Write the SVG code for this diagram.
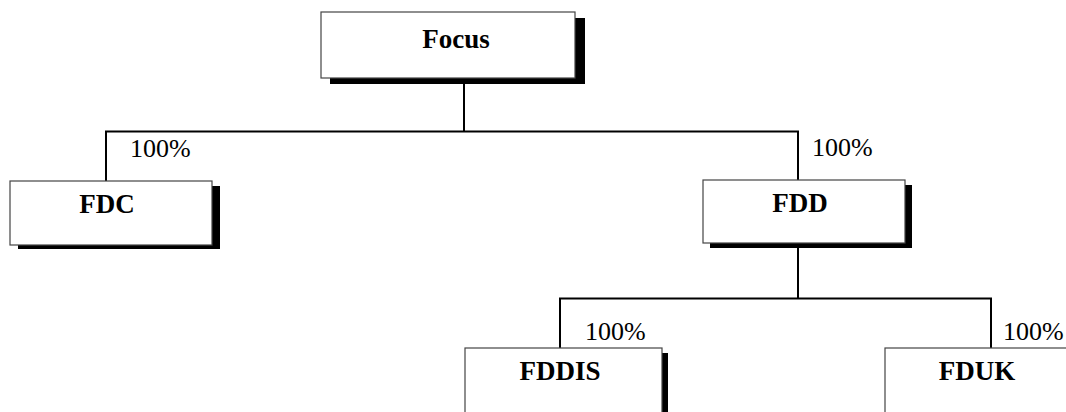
<svg xmlns="http://www.w3.org/2000/svg" width="1066" height="412" viewBox="0 0 1066 412">
<style>
.box{fill:#fff;stroke:#444;stroke-width:1.2}
.shadow{fill:#000}
.name{font-family:"Liberation Serif",serif;font-weight:bold;font-size:27px;text-anchor:middle;fill:#000}
.pct{font-family:"Liberation Serif",serif;font-size:26px;fill:#000}
.conn{fill:none;stroke:#000;stroke-width:2}
</style>
<rect width="1066" height="412" fill="#fff"/>
<g id="connectors">
<path class="conn" d="M464 84 V131.5"/>
<path class="conn" d="M106 181 V131.5 H798 V180"/>
<path class="conn" d="M798 248 V298.5"/>
<path class="conn" d="M560 348 V298.5 H991 V348"/>
<text class="pct" x="130" y="157">100%</text>
<text class="pct" x="812" y="156">100%</text>
<text class="pct" x="585" y="340">100%</text>
<text class="pct" x="1003" y="340">100%</text>
</g>
<g id="focus">
<rect class="shadow" x="330" y="18" width="255" height="66"/>
<rect class="box" x="321" y="12" width="254" height="66"/>
<text class="name" x="456" y="48">Focus</text>
</g>
<g id="fdc">
<rect class="shadow" x="18" y="186" width="202" height="63"/>
<rect class="box" x="10" y="181" width="202" height="64"/>
<text class="name" x="107" y="213">FDC</text>
</g>
<g id="fdd">
<rect class="shadow" x="710" y="185" width="202" height="63"/>
<rect class="box" x="703" y="180" width="202" height="63"/>
<text class="name" x="800" y="212">FDD</text>
</g>
<g id="fddis">
<rect class="shadow" x="471" y="353" width="197" height="70"/>
<rect class="box" x="465" y="348" width="197" height="70"/>
<text class="name" x="560" y="380">FDDIS</text>
</g>
<g id="fduk">
<rect class="shadow" x="891" y="353" width="200" height="70"/>
<rect class="box" x="885" y="348" width="200" height="70"/>
<text class="name" x="977" y="380">FDUK</text>
</g>
</svg>
